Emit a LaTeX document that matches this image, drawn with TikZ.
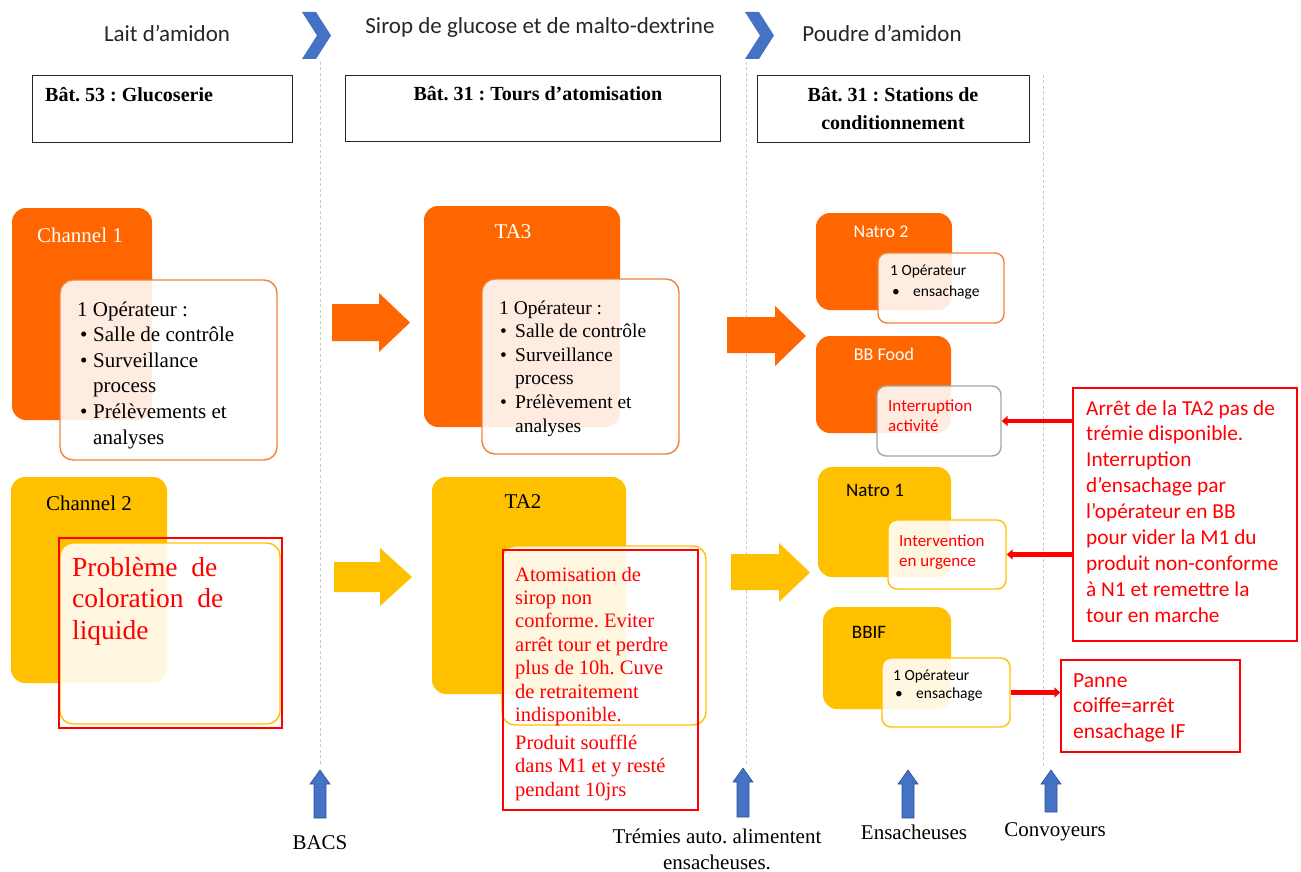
\documentclass[tikz,border=0pt]{standalone}
\usepackage{fontspec}
\setmainfont{Liberation Serif}
\newfontfamily\calfont{Carlito}
\usetikzlibrary{arrows.meta}
\frenchspacing
\definecolor{orng}{HTML}{FF6600}
\definecolor{orbd}{HTML}{F4813A}
\definecolor{ylw}{HTML}{FFC000}
\definecolor{blu}{HTML}{4472C4}
\definecolor{bluline}{HTML}{2F528F}
\definecolor{rd}{HTML}{FF0000}
\definecolor{grbd}{HTML}{A6A6A6}
\definecolor{dashgray}{HTML}{C8C8C8}
\definecolor{hdtxt}{HTML}{262626}
\newcommand\bitem[2]{\hspace*{#1}\makebox[#2][l]{\textbullet}}
\begin{document}
\begin{tikzpicture}[x=1pt,y=-1pt,
  card/.style={rounded corners=14pt,inner sep=0,draw=none},
  inbox/.style={rounded corners=13pt,inner sep=0,fill=white,fill opacity=0.88,line width=1.4pt},
  redrect/.style={draw=rd,line width=1.4pt,inner sep=0},
  hdbox/.style={draw=hdtxt,line width=0.8pt,inner sep=0},
  txt/.style={anchor=base west,inner sep=0},
  ctxt/.style={anchor=base,inner sep=0},
  sepline/.style={draw=dashgray,line width=1pt,dash pattern=on 3pt off 2.5pt},
  redarr/.style={draw=rd,line width=4.2pt,-{Triangle[length=6pt,width=10pt]}},
  uparr/.style={fill=blu,draw=bluline,line width=0.6pt},
]
\useasboundingbox (0,0) rectangle (1301,872);

% ---------- header labels and chevrons ----------
\node[anchor=center,inner sep=0,text=hdtxt,font=\calfont\fontsize{23}{27}\selectfont] (lbl1) at (167,33) {Lait d’amidon};
\node[anchor=center,inner sep=0,text=hdtxt,font=\calfont\fontsize{23}{27}\selectfont] (lbl2) at (540,27) {Sirop de glucose et de malto-dextrine};
\node[anchor=center,inner sep=0,text=hdtxt,font=\calfont\fontsize{23}{27}\selectfont] (lbl3) at (882,33) {Poudre d’amidon};
\fill[blu] (302,12) -- (316,12) -- (331,35.5) -- (316,59) -- (302,59) -- (317,35.5) -- cycle;
\fill[blu] (745,12) -- (759,12) -- (774,35.5) -- (759,59) -- (745,59) -- (760,35.5) -- cycle;

% ---------- dashed separators ----------
\coordinate (s1t) at (320,62); \coordinate (s1b) at (320,766);
\coordinate (s2t) at (746,62); \coordinate (s2b) at (746,764);
\coordinate (s3t) at (1043,75); \coordinate (s3b) at (1043,766);
\draw[sepline] (s1t) -- (s1b);
\draw[sepline] (s2t) -- (s2b);
\draw[sepline] (s3t) -- (s3b);

% ---------- header boxes ----------
\node[hdbox,minimum width=260pt,minimum height=67pt] (hb1) at (162,108.5) {};
\node[hdbox,minimum width=375pt,minimum height=66pt] (hb2) at (532.5,108) {};
\node[hdbox,minimum width=272pt,minimum height=67pt] (hb3) at (893,108.5) {};
\node[txt,font=\bfseries\fontsize{20}{24}\selectfont] (hb1t) at (45,102) {Bât. 53 : Glucoserie};
\node[ctxt,font=\bfseries\fontsize{20}{24}\selectfont] (hb2t) at (538,101) {Bât. 31 : Tours d’atomisation};
\node[ctxt,font=\bfseries\fontsize{20}{24}\selectfont] (hb3t) at (893,102) {Bât. 31 : Stations de};
\node[ctxt,font=\bfseries\fontsize{20}{24}\selectfont] (hb3u) at (893,130) {conditionnement};

% ---------- block arrows ----------
\fill[orng] (332,304) -- (379,304) -- (379,293) -- (410,322.5) -- (379,352) -- (379,341) -- (332,341) -- cycle;
\fill[orng] (727,317) -- (775,317) -- (775,306) -- (806,336) -- (775,366) -- (775,353) -- (727,353) -- cycle;
\fill[ylw] (334,562) -- (380,562) -- (380,548) -- (412,577) -- (380,606) -- (380,592) -- (334,592) -- cycle;
\fill[ylw] (731,554) -- (779,554) -- (779,543) -- (810,572.5) -- (779,602) -- (779,590) -- (731,590) -- cycle;

% ---------- cards ----------
\node[card,fill=orng,minimum width=140pt,minimum height=212pt] (ch1) at (82,314) {};
\node[card,fill=orng,minimum width=196pt,minimum height=221pt] (ta3) at (522,316.5) {};
\node[card,fill=orng,minimum width=136pt,minimum height=97pt] (na2) at (884,261.5) {};
\node[card,fill=orng,minimum width=135pt,minimum height=97pt] (bbf) at (883.5,384.5) {};
\node[card,fill=ylw,minimum width=156pt,minimum height=206pt] (ch2) at (89,580) {};
\node[card,fill=ylw,minimum width=194pt,minimum height=217pt] (ta2) at (529,585.5) {};
\node[card,fill=ylw,minimum width=133pt,minimum height=110pt] (na1) at (884.5,522) {};
\node[card,fill=ylw,minimum width=128pt,minimum height=102pt] (bbif) at (887,658) {};

% ---------- card titles ----------
\node[anchor=center,inner sep=0,text=white,font=\fontsize{21}{25}\selectfont] (ch1t) at (80,235) {Channel 1};
\node[anchor=center,inner sep=0,text=white,font=\fontsize{21}{25}\selectfont] (ta3t) at (513,232) {TA3};
\node[anchor=center,inner sep=0,text=white,font=\calfont\fontsize{18}{22}\selectfont] (na2t) at (881,232) {Natro 2};
\node[anchor=center,inner sep=0,text=white,font=\calfont\fontsize{18}{22}\selectfont] (bbft) at (884,354) {BB Food};
\node[anchor=center,inner sep=0,text=black,font=\fontsize{21}{25}\selectfont] (ch2t) at (89,503) {Channel 2};
\node[anchor=center,inner sep=0,text=black,font=\fontsize{21}{25}\selectfont] (ta2t) at (523,502) {TA2};
\node[anchor=center,inner sep=0,text=black,font=\calfont\fontsize{19}{22}\selectfont] (na1t) at (875,490) {Natro 1};
\node[anchor=center,inner sep=0,text=black,font=\calfont\fontsize{19}{22}\selectfont] (bbift) at (869,632) {BBIF};

% ---------- inner boxes ----------
\node[inbox,draw=orbd,minimum width=217pt,minimum height=180pt] (ch1in) at (168.5,370) {};
\node[inbox,draw=orbd,minimum width=197pt,minimum height=175pt] (ta3in) at (580.5,366.5) {};
\node[inbox,draw=orbd,minimum width=126pt,minimum height=70pt,rounded corners=9pt] (na2in) at (941,288) {};
\node[inbox,draw=grbd,minimum width=124pt,minimum height=70pt,rounded corners=9pt] (bbfin) at (939,421) {};
\node[inbox,draw=ylw,minimum width=220pt,minimum height=181pt] (ch2in) at (170,633.5) {};
\node[inbox,draw=ylw,minimum width=204pt,minimum height=179pt] (ta2in) at (604,635.5) {};
\node[inbox,draw=ylw,minimum width=118pt,minimum height=69pt,rounded corners=9pt] (na1in) at (947,554.5) {};
\node[inbox,draw=ylw,minimum width=128pt,minimum height=69pt,rounded corners=9pt] (bbifin) at (946,692.5) {};

% ---------- red frames ----------
\node[redrect,minimum width=223pt,minimum height=190pt] (ch2red) at (170.5,633) {};
\node[redrect,minimum width=195pt,minimum height=260pt] (ta2red) at (600.5,680) {};
\node[redrect,minimum width=224pt,minimum height=253pt] (red1) at (1185,514.5) {};
\node[redrect,minimum width=179pt,minimum height=92pt] (red2) at (1150.5,706) {};

% ---------- texts ----------
\node[txt] (ch1txt) at (77,316) {\parbox[t]{200pt}{\raggedright\fontsize{21}{25.6}\selectfont
1 Opérateur :\\
\bitem{3pt}{13pt}Salle de contrôle\\
\bitem{3pt}{13pt}Surveillance\\
\hspace*{16pt}process\\
\bitem{3pt}{13pt}Prélèvements et\\
\hspace*{16pt}analyses}};
\node[txt] (ta3txt) at (499,314) {\parbox[t]{190pt}{\raggedright\fontsize{19.5}{23.6}\selectfont
1 Opérateur :\\
\bitem{1pt}{15pt}Salle de contrôle\\
\bitem{1pt}{15pt}Surveillance\\
\hspace*{16pt}process\\
\bitem{1pt}{15pt}Prélèvement et\\
\hspace*{16pt}analyses}};
\node[txt] (na2txt) at (890,275) {\parbox[t]{110pt}{\raggedright\calfont\fontsize{15.5}{21.5}\selectfont
1 Opérateur\\
\bitem{2pt}{21pt}ensachage}};
\node[txt,text=rd] (bbftxt) at (888,411) {\parbox[t]{110pt}{\raggedright\calfont\fontsize{17}{20.5}\selectfont
Interruption\\ activité}};
\node[txt,text=rd] (na1txt) at (899,546) {\parbox[t]{110pt}{\raggedright\calfont\fontsize{17}{20.5}\selectfont
Intervention\\ en urgence}};
\node[txt] (bbiftxt) at (893,680) {\parbox[t]{110pt}{\raggedright\calfont\fontsize{15.5}{18.5}\selectfont
1 Opérateur\\
\bitem{2pt}{21pt}ensachage}};
\node[txt,text=rd] (ch2txt) at (72,576) {\parbox[t]{200pt}{\raggedright\fontsize{27.5}{31.5}\selectfont\spaceskip=0.5em
Problème de\\ coloration de\\ liquide}};
\node[txt,text=rd] (ta2txt) at (515,581) {\parbox[t]{185pt}{\raggedright\fontsize{20.5}{23.4}\selectfont
Atomisation de\\ sirop non\\ conforme. Eviter\\ arrêt tour et perdre\\ plus de 10h. Cuve\\ de retraitement\\ indisponible.\\[4.6pt]
Produit soufflé\\ dans M1 et y resté\\ pendant 10jrs}};
\node[txt,text=rd] (red1txt) at (1086,415) {\parbox[t]{215pt}{\raggedright\calfont\fontsize{21.3}{25.9}\selectfont
Arrêt de la TA2 pas de\\ trémie disponible.\\ Interruption\\ d’ensachage par\\ l’opérateur en BB\\ pour vider la M1 du\\ produit non-conforme\\ à N1 et remettre la\\ tour en marche}};
\node[txt,text=rd] (red2txt) at (1073,687) {\parbox[t]{170pt}{\raggedright\calfont\fontsize{21.5}{25.5}\selectfont
Panne\\ coiffe=arrêt\\ ensachage IF}};

% ---------- red arrows ----------
\draw[redarr] (red1.west |- bbfin.east) -- (bbfin.east);
\draw[redarr] (red1.west |- na1in.east) -- (na1in.east);
\draw[redarr] (bbifin.east) -- (bbifin.east -| red2.west);

% ---------- bottom blue arrows ----------
\draw[uparr] (320,770) -- (330,784) -- (326,784) -- (326,818) -- (314,818) -- (314,784) -- (310,784) -- cycle;
\draw[uparr] (743,768) -- (753,782) -- (749,782) -- (749,817) -- (737,817) -- (737,782) -- (733,782) -- cycle;
\draw[uparr] (908,770) -- (918,784) -- (914,784) -- (914,818) -- (902,818) -- (902,784) -- (898,784) -- cycle;
\draw[uparr] (1051,770) -- (1061,784) -- (1057,784) -- (1057,812) -- (1045,812) -- (1045,784) -- (1041,784) -- cycle;

% ---------- bottom labels ----------
\node[anchor=center,inner sep=0,font=\fontsize{21}{25}\selectfont] (bacs) at (320,843) {BACS};
\node[anchor=center,inner sep=0,font=\fontsize{21}{25}\selectfont] (trem) at (717,836) {Trémies auto. alimentent};
\node[anchor=center,inner sep=0,font=\fontsize{21}{25}\selectfont] (trem2) at (717,862) {ensacheuses.};
\node[anchor=center,inner sep=0,font=\fontsize{21}{25}\selectfont] (ensa) at (914,832) {Ensacheuses};
\node[anchor=center,inner sep=0,font=\fontsize{21}{25}\selectfont] (conv) at (1055,832) {Convoyeurs};
\end{tikzpicture}
\end{document}
